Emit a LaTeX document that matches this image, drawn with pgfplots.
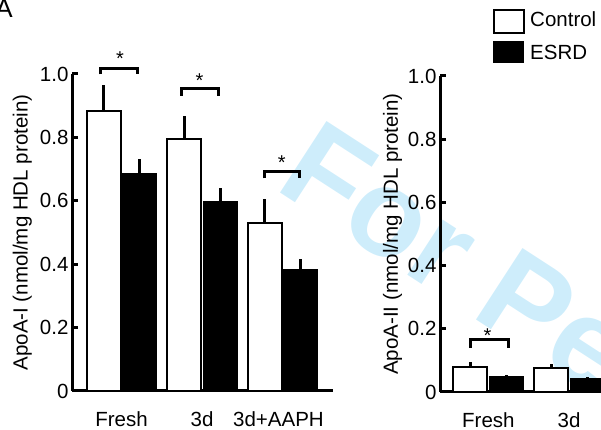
\documentclass[border=0pt]{standalone}
\usepackage{pgfplots}
\usepackage{pgfplotstable}
\pgfplotsset{compat=1.18}
\usepackage{fontspec}
\setmainfont{Liberation Sans}
\definecolor{wm}{RGB}{206,237,251}

\newcommand{\lblfont}{\fontsize{20.5}{24}\selectfont}
\newcommand{\starfont}{\fontsize{20}{24}\selectfont}

% ApoA-I per mg HDL protein: mean and upper error (SEM)
\pgfplotstableread{
x val err
0 0.883 0.082
1 0.794 0.073
2 0.530 0.076
}\ctrlI
\pgfplotstableread{
x val err
0 0.685 0.046
1 0.598 0.041
2 0.384 0.031
}\esrdI
% ApoA-II per mg HDL protein
\pgfplotstableread{
x val err
0 0.080 0.014
1 0.076 0.013
}\ctrlII
\pgfplotstableread{
x val err
0 0.050 0.004
1 0.043 0.003
}\esrdII

\pgfplotsset{
  apoaxis/.style={
    scale only axis,
    ybar=2pt, bar width=34pt,
    ymin=0, ymax=1,
    ytick={0,0.2,0.4,0.6,0.8,1.0},
    yticklabels={0,0.2,0.4,0.6,0.8,1.0},
    axis x line*=bottom, axis y line*=left,
    axis line style={line width=3pt, -},
    tick align=inside,
    major tick length=6pt,
    ytick style={line width=3pt, black},
    xtick style={draw=none},
    /pgf/number format/assume math mode=true,
    tick label style={font=\lblfont},
    label style={font=\lblfont},
    xticklabel style={yshift=-17pt},
    clip=false,
    error bars/y dir=plus, error bars/y explicit,
    error bars/error mark=none,
    error bars/error bar style={line width=3pt, black},
  },
  ctrl/.style={fill=white, draw=black, line width=2pt},
  esrd/.style={fill=black, draw=black, line width=1pt},
}

\begin{document}
\begin{tikzpicture}
% background watermark
\node[anchor=base west, inner sep=0, rotate=-33, text=wm,
      font=\fontsize{124}{130}\selectfont\bfseries] at (273pt,242pt) {For Peer Review};

\node[anchor=base east, inner sep=0, font=\fontsize{26}{30}\selectfont] at (13pt,412pt) {A};

% ApoA-I
\begin{axis}[apoaxis,
  at={(72pt,39pt)}, anchor=south west,
  width=261pt, height=317pt,
  xmin=-0.615, xmax=2.627,
  xtick={0,1,1.95}, xticklabels={Fresh,3d,3d+AAPH},
  ylabel={ApoA-I (nmol/mg HDL protein)},
  ylabel style={at={(rel axis cs:-0.19,0.5)}, anchor=center},
]
\addplot[ctrl] table[x=x, y=val, y error=err] {\ctrlI};
\addplot[esrd] table[x=x, y=val, y error=err] {\esrdI};
\draw[line width=3pt] (axis cs:-0.26,0.999) -- (axis cs:-0.26,1.017) -- (axis cs:0.20,1.017) -- (axis cs:0.20,0.999);
\draw[line width=3pt] (axis cs:0.74,0.931) -- (axis cs:0.74,0.953) -- (axis cs:1.20,0.953) -- (axis cs:1.20,0.931);
\draw[line width=3pt] (axis cs:1.78,0.671) -- (axis cs:1.78,0.692) -- (axis cs:2.21,0.692) -- (axis cs:2.21,0.671);
\node[anchor=north, inner sep=0, font=\starfont] at (axis cs:-0.02,1.071) {*};
\node[anchor=north, inner sep=0, font=\starfont] at (axis cs:0.97,1.003) {*};
\node[anchor=north, inner sep=0, font=\starfont] at (axis cs:1.99,0.744) {*};
\end{axis}

% ApoA-II
\begin{axis}[apoaxis,
  at={(440pt,38pt)}, anchor=south west,
  width=258pt, height=316pt,
  xmin=-0.6, xmax=2.6,
  xtick={0,1}, xticklabels={Fresh,3d},
  ylabel={ApoA-II (nmol/mg HDL protein)},
  ylabel style={at={(rel axis cs:-0.184,0.5)}, anchor=center},
]
\addplot[ctrl] table[x=x, y=val, y error=err] {\ctrlII};
\addplot[esrd] table[x=x, y=val, y error=err] {\esrdII};
\draw[line width=3pt] (axis cs:-0.22,0.140) -- (axis cs:-0.22,0.166) -- (axis cs:0.25,0.166) -- (axis cs:0.25,0.140);
\node[anchor=north, inner sep=0, font=\starfont] at (axis cs:-0.012,0.2016) {*};
\end{axis}

% legend
\draw[line width=2pt, fill=white] (494pt,420pt) rectangle (523.5pt,397pt);
\fill[black] (493.3pt,389.3pt) rectangle (524.3pt,366.7pt);
\node[anchor=base west, inner sep=0, font=\lblfont] at (530pt,403.3pt) {Control};
\node[anchor=base west, inner sep=0, font=\lblfont] at (530pt,370.7pt) {ESRD};

\pgfresetboundingbox
\path[use as bounding box] (0pt,0pt) rectangle (601pt,430pt);
\end{tikzpicture}
\end{document}
